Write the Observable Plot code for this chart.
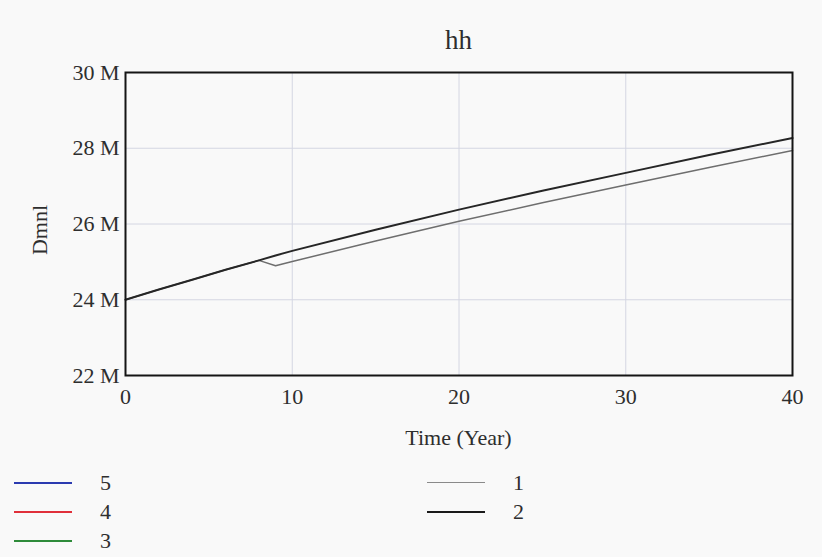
<!DOCTYPE html>
<html>
<head>
<meta charset="utf-8">
<script src="https://cdn.jsdelivr.net/npm/d3@7"></script>
<script src="https://cdn.jsdelivr.net/npm/@observablehq/plot@0.6"></script>
<style>
  html, body { margin: 0; padding: 0; background: #f9f9f9; }
  #wrap { position: relative; width: 822px; height: 557px; background: #f9f9f9; font-family: "Liberation Serif", serif; color: #2e2e2e; overflow: hidden; }
  #chart { position: absolute; left: 0; top: 0; }
  .abs { position: absolute; white-space: nowrap; }
  .sw { position: absolute; height: 0; }
</style>
</head>
<body>
<div id="wrap">
  <div id="chart"></div>
  <div class="abs" id="title" style="left:125px;width:667px;top:27px;text-align:center;font-size:27px;line-height:27px;">hh</div>
  <div class="abs" id="xlabel" style="left:125px;width:667px;top:427px;text-align:center;font-size:22px;line-height:22px;">Time (Year)</div>
  <div class="abs" id="ylabel" style="left:40px;top:230px;font-size:22px;line-height:22px;transform:translate(-50%,-50%) rotate(-90deg);">Dmnl</div>
  <div id="legend"></div>
</div>
<script>
// ---- data (values in millions) ----
const years   = [0, 2, 4, 6, 8, 9, 10, 15, 20, 25, 30, 35, 40];
const series1 = [24.00, 24.27, 24.53, 24.79, 25.04, 24.90, 25.01, 25.55, 26.07, 26.56, 27.03, 27.49, 27.94];
const series2 = [24.00, 24.27, 24.53, 24.79, 25.04, 25.17, 25.29, 25.85, 26.38, 26.88, 27.35, 27.82, 28.27];
const xTicks = [0, 10, 20, 30, 40];
const yTicks = [22, 24, 26, 28, 30];
const legendNames  = ["5", "4", "3", "1", "2"];
const legendColors = ["#2b3bb0", "#e0303a", "#2e8b3a", "#8a8a8a", "#1a1a1a"];

const M = 1e6;
const d1 = years.map((t, i) => ({t, v: series1[i] * M}));
const d2 = years.map((t, i) => ({t, v: series2[i] * M}));

const plot = Plot.plot({
  width: 822,
  height: 557,
  marginLeft: 125,
  marginRight: 30,
  marginTop: 72,
  marginBottom: 182,
  style: {background: "transparent", fontFamily: "Liberation Serif, serif", fontSize: "22px", color: "#2e2e2e"},
  x: {domain: [0, 40]},
  y: {domain: [22 * M, 30 * M]},
  marks: [
    Plot.gridX([10, 20, 30], {stroke: "#d4d6e2", strokeOpacity: 1, strokeWidth: 1}),
    Plot.gridY([24, 26, 28].map(d => d * M), {stroke: "#d4d6e2", strokeOpacity: 1, strokeWidth: 1}),
    Plot.line(d1, {x: "t", y: "v", stroke: "#6e6e6e", strokeWidth: 1.5}),
    Plot.line(d2, {x: "t", y: "v", stroke: "#262626", strokeWidth: 2}),
    Plot.frame({stroke: "#151515", strokeWidth: 2}),
    Plot.axisX(xTicks, {tickSize: 0, tickPadding: 13, label: null, fontSize: 22}),
    Plot.axisY(yTicks.map(d => d * M), {tickSize: 0, tickPadding: 6, label: null, fontSize: 22, tickFormat: d => (d / M) + " M"})
  ]
});
document.getElementById("chart").appendChild(plot);

// ---- legend ----
const legendPos = [
  {x: 14, y: 483}, {x: 14, y: 512}, {x: 14, y: 541},
  {x: 427, y: 483}, {x: 427, y: 512}
];
const widths = [2, 2, 2, 1.5, 2.5];
const lg = document.getElementById("legend");
legendNames.forEach((name, i) => {
  const p = legendPos[i];
  const sw = document.createElement("div");
  sw.className = "sw";
  sw.style.left = p.x + "px";
  sw.style.top = (p.y - widths[i] / 2) + "px";
  sw.style.width = "58px";
  sw.style.borderTop = widths[i] + "px solid " + legendColors[i];
  lg.appendChild(sw);
  const t = document.createElement("div");
  t.className = "abs";
  t.style.left = (p.x + 86) + "px";
  t.style.top = (p.y - 11) + "px";
  t.style.fontSize = "22px";
  t.style.lineHeight = "22px";
  t.textContent = name;
  lg.appendChild(t);
});
</script>
</body>
</html>
